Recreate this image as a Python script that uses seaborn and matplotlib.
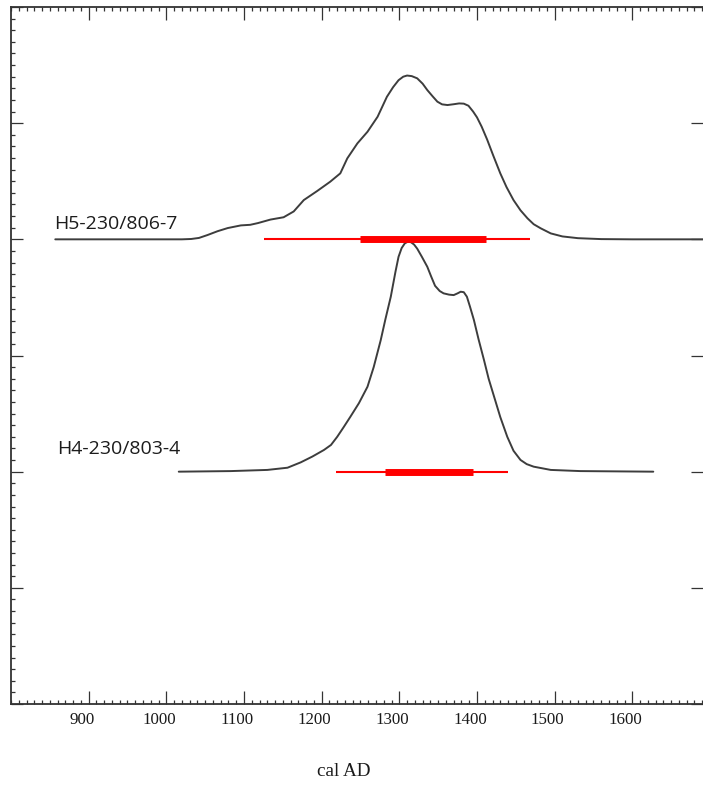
import numpy as np
import pandas as pd
import matplotlib
matplotlib.use("Agg")
import matplotlib.pyplot as plt
import matplotlib.transforms as mtransforms
from matplotlib.ticker import MultipleLocator, FixedLocator, NullFormatter
import seaborn as sns

# ---- data ----
h5_label = "H5-230/806-7"
h5_years = [857, 1020, 1032, 1042, 1053, 1066, 1079, 1096, 1108, 1118, 1134, 1151, 1164, 1177, 1194,
            1211, 1224, 1233, 1246, 1259, 1272, 1284, 1292, 1299, 1305, 1310, 1316, 1323, 1330, 1336,
            1343, 1349, 1355, 1362, 1370, 1377, 1383, 1389, 1395, 1400, 1406, 1413, 1421, 1430, 1438,
            1447, 1456, 1465, 1473, 1482, 1495, 1510, 1530, 1560, 1600, 1691]
h5_density = [0.0, 0.0, 0.003, 0.012, 0.037, 0.07, 0.097, 0.12, 0.125, 0.14, 0.17, 0.19, 0.24, 0.338, 0.415,
              0.496, 0.568, 0.697, 0.826, 0.926, 1.055, 1.227, 1.31, 1.37, 1.40, 1.41, 1.405, 1.386, 1.34, 1.285,
              1.23, 1.185, 1.162, 1.156, 1.163, 1.17, 1.168, 1.15, 1.10, 1.05, 0.97, 0.86, 0.72, 0.568, 0.45,
              0.338, 0.25, 0.181, 0.13, 0.095, 0.051, 0.025, 0.01, 0.002, 0.0, 0.0]

h4_label = "H4-230/803-4"
h4_years = [1016, 1083, 1130, 1156, 1173, 1188, 1203, 1212, 1220, 1228, 1237, 1248, 1259, 1267, 1276,
            1282, 1289, 1295, 1299, 1303, 1307, 1311, 1315, 1319, 1323, 1329, 1336, 1341, 1346, 1352,
            1357, 1364, 1370, 1375, 1379, 1383, 1387, 1391, 1396, 1402, 1409, 1415, 1422, 1430, 1439,
            1447, 1456, 1464, 1473, 1495, 1533, 1627]
h4_density = [0.0, 0.005, 0.015, 0.034, 0.08, 0.13, 0.187, 0.23, 0.30, 0.38, 0.473, 0.59, 0.731, 0.9, 1.131,
              1.31, 1.506, 1.72, 1.85, 1.925, 1.965, 1.98, 1.975, 1.955, 1.92, 1.85, 1.764, 1.68, 1.6, 1.555,
              1.535, 1.524, 1.52, 1.535, 1.549, 1.545, 1.506, 1.42, 1.306, 1.14, 0.961, 0.8, 0.646, 0.47, 0.30,
              0.18, 0.101, 0.065, 0.043, 0.015, 0.005, 0.0]

# highest posterior density ranges (cal AD)
h5_range95 = (1126, 1468)
h5_range68 = (1249, 1412)
h4_range95 = (1218, 1440)
h4_range68 = (1282, 1395)

x_ticks = [900, 1000, 1100, 1200, 1300, 1400, 1500, 1600]
x_label = "cal AD"

# ---- figure ----
sns.set_theme(style="white")
plt.rcParams["font.family"] = ["Liberation Serif", "DejaVu Serif"]

W, H = 703, 785
fig = plt.figure(figsize=(W / 100, H / 100), dpi=100)
ax = fig.add_axes([11 / W, 1 - 704 / H, (703 - 11) / W, (704 - 7) / H])

offset_h5 = 0.0
offset_h4 = -2.0
df = pd.concat([
    pd.DataFrame({"year": h5_years, "d": np.array(h5_density) + offset_h5, "s": h5_label}),
    pd.DataFrame({"year": h4_years, "d": np.array(h4_density) + offset_h4, "s": h4_label}),
])
sns.lineplot(data=df, x="year", y="d", units="s", estimator=None, sort=False,
             color="#3d3d3d", linewidth=1.4, ax=ax, legend=False)
for ln in ax.lines:
    ln.set_solid_joinstyle("round")

red = "#ff0000"
for rng95, rng68, base in [(h5_range95, h5_range68, offset_h5), (h4_range95, h4_range68, offset_h4)]:
    ax.hlines(base, rng95[0], rng95[1], color=red, linewidth=1.5, zorder=3)
    ax.hlines(base, rng68[0], rng68[1], color=red, linewidth=5.0, zorder=3)

txt_font = dict(family=["Open Sans", "DejaVu Sans"], fontsize=14, color="#1c1c1c")
ax.text(855, offset_h5 + 0.09, h5_label, ha="left", va="baseline", **txt_font)
ax.text(860, offset_h4 + 0.152, h4_label, ha="left", va="baseline", **txt_font)

ax.set_xlim(800, 1691)
ax.set_ylim(-4, 2)

ax.xaxis.set_major_locator(FixedLocator(x_ticks))
ax.xaxis.set_minor_locator(MultipleLocator(10))
ax.set_xticklabels([str(t) for t in x_ticks])
ax.yaxis.set_major_locator(MultipleLocator(1))
ax.yaxis.set_minor_locator(MultipleLocator(0.1))
ax.yaxis.set_major_formatter(NullFormatter())

ax.tick_params(axis="x", which="both", direction="in", top=True, bottom=True,
               colors="#333333", labelsize=12.2, pad=6.0, labelcolor="#1a1a1a")
ax.tick_params(axis="x", which="major", length=9.5, width=0.9)
ax.tick_params(axis="x", which="minor", length=2.8, width=0.9)
ax.tick_params(axis="y", which="both", direction="in", left=True, right=True, colors="#333333")
ax.tick_params(axis="y", which="major", length=8.5, width=0.9)
ax.tick_params(axis="y", which="minor", length=2.8, width=0.9, right=False)

off = mtransforms.ScaledTranslation(-0.07, 0, fig.dpi_scale_trans)
for lab in ax.get_xticklabels():
    lab.set_transform(lab.get_transform() + off)

for side in ["left", "bottom", "top"]:
    ax.spines[side].set_color("#333333")
    ax.spines[side].set_linewidth(1.3)
ax.spines["right"].set_visible(False)

ax.set_xlabel(x_label, fontsize=13.8, color="#1a1a1a")
ax.xaxis.set_label_coords((344 - 11) / (703 - 11), -(772 - 704) / (704 - 7))
ax.xaxis.label.set_va("center")
ax.set_ylabel("")

fig.savefig("out.png", dpi=100)
